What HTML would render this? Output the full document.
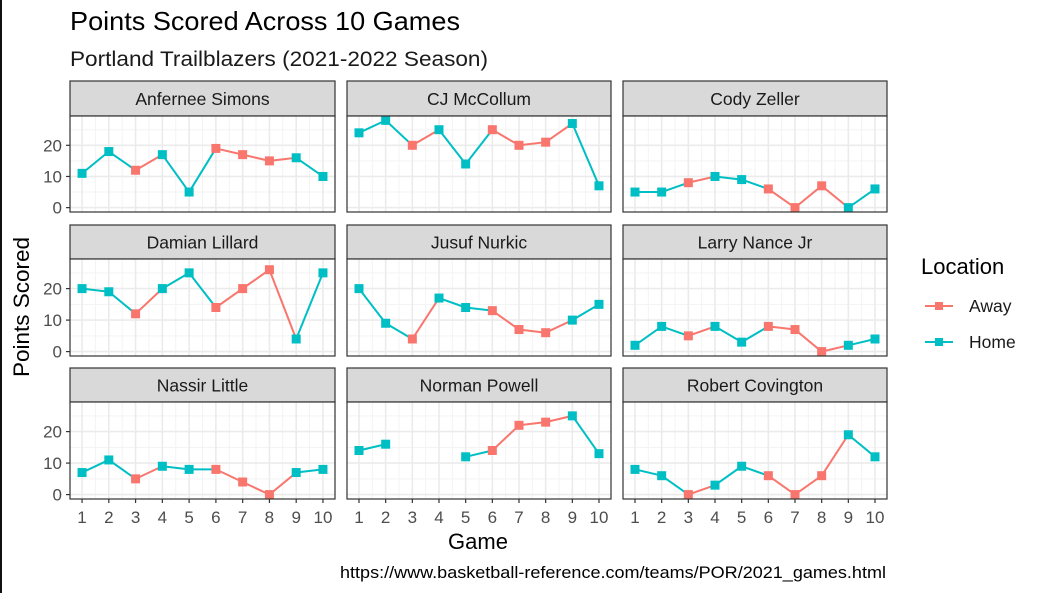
<!DOCTYPE html>
<html><head><meta charset="utf-8">
<style>
html,body{margin:0;padding:0;background:#fff;}
body{width:1037px;height:593px;overflow:hidden;position:relative;font-family:"Liberation Sans",sans-serif;}
#lb{position:absolute;left:0;top:0;width:2px;height:593px;background:#111;}
</style></head>
<body>
<div id="lb"></div>
<svg id="chart" width="1037" height="593" xmlns="http://www.w3.org/2000/svg" style="position:absolute;left:0;top:0">
<text x="70" y="30" font-size="26" textLength="390" lengthAdjust="spacingAndGlyphs" fill="#000">Points Scored Across 10 Games</text>
<text x="70" y="66" font-size="21" textLength="418" lengthAdjust="spacingAndGlyphs" fill="#1a1a1a">Portland Trailblazers (2021-2022 Season)</text>
<text x="478" y="549" font-size="22" text-anchor="middle" fill="#000">Game</text>
<text transform="translate(29,307) rotate(-90)" font-size="22.5" text-anchor="middle" fill="#000">Points Scored</text>
<text x="340" y="578" font-size="16.5" textLength="546" lengthAdjust="spacingAndGlyphs" fill="#000">https://www.basketball-reference.com/teams/POR/2021_games.html</text>
<g>
<text x="921" y="274" font-size="22" fill="#000">Location</text>
<g>
<line x1="925" y1="306" x2="953" y2="306" stroke="#F8766D" stroke-width="2"/>
<rect x="935" y="302" width="8" height="8" fill="#F8766D"/>
<text x="969" y="312" font-size="17.5" fill="#1a1a1a">Away</text>
</g>
<g>
<line x1="925" y1="342" x2="953" y2="342" stroke="#00BFC4" stroke-width="2"/>
<rect x="935" y="338" width="8" height="8" fill="#00BFC4"/>
<text x="969" y="348" font-size="17.5" fill="#1a1a1a">Home</text>
</g>
</g>
</svg>
<script>
const players = ["Anfernee Simons","CJ McCollum","Cody Zeller","Damian Lillard","Jusuf Nurkic","Larry Nance Jr","Nassir Little","Norman Powell","Robert Covington"];
const games = [1,2,3,4,5,6,7,8,9,10];
const yTicks = [0,10,20];
const ptsSimons    = [11,18,12,17,5,19,17,15,16,10];
const ptsMcCollum  = [24,28,20,25,14,25,20,21,27,7];
const ptsZeller    = [5,5,8,10,9,6,0,7,0,6];
const ptsLillard   = [20,19,12,20,25,14,20,26,4,25];
const ptsNurkic    = [20,9,4,17,14,13,7,6,10,15];
const ptsNance     = [2,8,5,8,3,8,7,0,2,4];
const ptsLittle    = [7,11,5,9,8,8,4,0,7,8];
const ptsPowell    = [14,16,null,null,12,14,22,23,25,13];
const ptsCovington = [8,6,0,3,9,6,0,6,19,12];
const locSimons    = ["H","H","A","H","H","A","A","A","H","H"];
const locMcCollum  = ["H","H","A","H","H","A","A","A","H","H"];
const locZeller    = ["H","H","A","H","H","A","A","A","H","H"];
const locLillard   = ["H","H","A","H","H","A","A","A","H","H"];
const locNurkic    = ["H","H","A","H","H","A","A","A","H","H"];
const locNance     = ["H","H","A","H","H","A","A","A","H","H"];
const locLittle    = ["H","H","A","H","H","A","A","A","H","H"];
const locPowell    = ["H","H","A","H","H","A","A","A","H","H"];
const locCovington = ["H","H","A","H","H","A","A","A","H","H"];
const allPts = [ptsSimons,ptsMcCollum,ptsZeller,ptsLillard,ptsNurkic,ptsNance,ptsLittle,ptsPowell,ptsCovington];
const allLoc = [locSimons,locMcCollum,locZeller,locLillard,locNurkic,locNance,locLittle,locPowell,locCovington];

const NS="http://www.w3.org/2000/svg";
const svg=document.getElementById('chart');
const colX=[[70,335],[347,611],[623,887]];
const rowY=[[81,116,212],[225,259,356],[368,402,499]];
const COL={A:"#F8766D",H:"#00BFC4"};
const yMin=-1.4,yMax=29.4,xMin=0.55,xMax=10.45;
function mk(tag,attrs,parent){const e=document.createElementNS(NS,tag);for(const k in attrs)e.setAttribute(k,attrs[k]);(parent||svg).appendChild(e);return e;}

players.forEach((name,i)=>{
  const c=i%3,r=Math.floor(i/3);
  const [x0,x1]=colX[c];const [st,pt,pb]=rowY[r];
  const sx=v=>x0+(v-xMin)/(xMax-xMin)*(x1-x0);
  const sy=v=>pb-(v-yMin)/(yMax-yMin)*(pb-pt);
  const g=mk('g',{});
  
  
  const s=mk('rect',{x:x0,y:st,width:x1-x0,height:pt-st,fill:'#D9D9D9',stroke:'#333',"stroke-width":1.2},g);
  
  
  const t=mk('text',{x:(x0+x1)/2,y:(st+pt)/2+6.5,"font-size":17.5,"text-anchor":"middle",fill:'#1a1a1a'},g);
  t.textContent=name;
  
  
  mk('rect',{x:x0,y:pt,width:x1-x0,height:pb-pt,fill:'#fff'},g);
  for(let v=5;v<yMax;v+=10) mk('line',{x1:x0,x2:x1,y1:sy(v),y2:sy(v),stroke:'#F3F3F3',"stroke-width":1},g);
  for(let v=1.5;v<10;v+=1) mk('line',{x1:sx(v),x2:sx(v),y1:pt,y2:pb,stroke:'#F3F3F3',"stroke-width":1},g);
  yTicks.forEach(v=>mk('line',{x1:x0,x2:x1,y1:sy(v),y2:sy(v),stroke:'#EBEBEB',"stroke-width":1.6},g));
  games.forEach(v=>mk('line',{x1:sx(v),x2:sx(v),y1:pt,y2:pb,stroke:'#EBEBEB',"stroke-width":1.6},g));
  const p=allPts[i],l=allLoc[i];
  for(let k=0;k<games.length-1;k++){
    if(p[k]==null||p[k+1]==null)continue;
    const ln=mk('line',{x1:sx(games[k]),y1:sy(p[k]),x2:sx(games[k+1]),y2:sy(p[k+1]),stroke:COL[l[k]],"stroke-width":2},g);
    
    
  }
  for(let k=0;k<games.length;k++){
    if(p[k]==null)continue;
    const pt2=mk('rect',{x:sx(games[k])-4.5,y:sy(p[k])-4.5,width:9,height:9,fill:COL[l[k]]},g);
    
    
  }
  mk('rect',{x:x0,y:pt,width:x1-x0,height:pb-pt,fill:'none',stroke:'#333',"stroke-width":1.2},g);
  if(c===0){
    yTicks.forEach(v=>{
      mk('line',{x1:x0-4,x2:x0,y1:sy(v),y2:sy(v),stroke:'#333',"stroke-width":1.2},g);
      const tl=mk('text',{x:x0-8,y:sy(v)+6,"font-size":17,"text-anchor":"end",fill:'#4D4D4D'},g);
      tl.textContent=v;
      
      
    });
  }
  if(r===2){
    games.forEach(v=>{
      mk('line',{x1:sx(v),x2:sx(v),y1:pb,y2:pb+4,stroke:'#333',"stroke-width":1.2},g);
      const tl=mk('text',{x:sx(v),y:pb+24,"font-size":17,"text-anchor":"middle",fill:'#4D4D4D'},g);
      tl.textContent=v;
      
      
    });
  }
});
</script>
</body></html>
